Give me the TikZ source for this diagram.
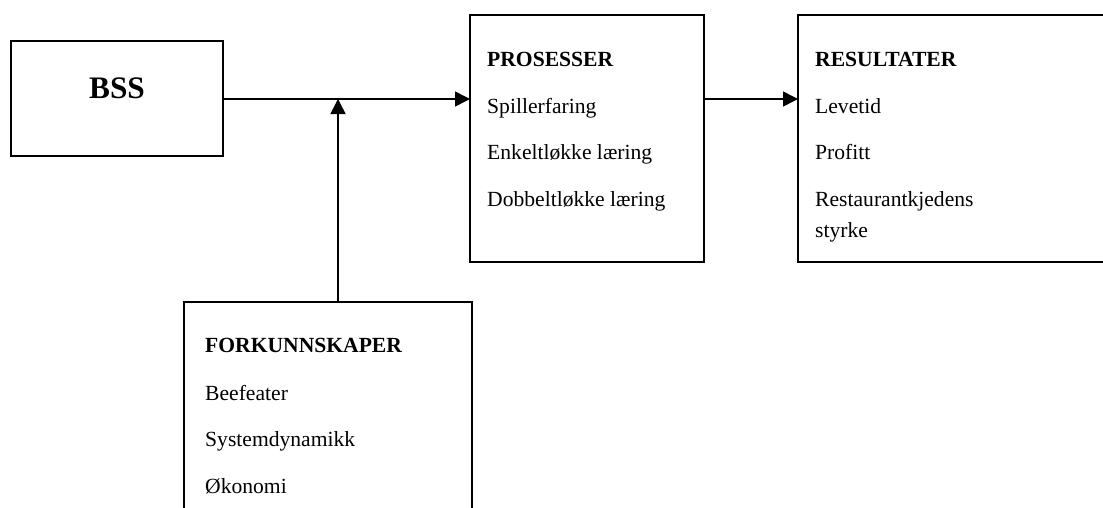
\documentclass[tikz,border=0pt]{standalone}
\usepackage{fontspec}
\setmainfont{Liberation Serif}
\usetikzlibrary{arrows.meta}
\tikzset{
  box/.style={draw=black, line width=1.6pt, fill=white, inner sep=0pt, outer sep=0pt},
  item/.style={anchor=base west, inner sep=0pt, font=\fontsize{21.6}{26}\selectfont},
  head/.style={item, font=\fontsize{21.6}{26}\selectfont\bfseries},
  link/.style={line width=1.6pt, -{Triangle[length=15pt,width=15pt]}}
}
\begin{document}
\begin{tikzpicture}[x=1pt,y=-1pt]
\useasboundingbox (0,0) rectangle (1103,507);
\clip (0,0) rectangle (1103,507);

% boxes
\node[box, minimum width=212pt, minimum height=115pt] (bss) at (117,98.5) {};
\node[box, minimum width=234pt, minimum height=247pt] (pro) at (587,138.5) {};
\node[box, minimum width=330pt, minimum height=247pt] (res) at (963,138.5) {};
\node[box, minimum width=288pt, minimum height=260pt] (fork) at (328,432) {};

% labels
\node[anchor=base, inner sep=0pt, font=\fontsize{31.3}{36}\selectfont\bfseries] (bsst) at (117,98) {BSS};

\node[head] (prot) at (487,66.7) {PROSESSER};
\node[item] (p1) at (487,113) {Spillerfaring};
\node[item] (p2) at (487,159.7) {Enkeltløkke læring};
\node[item] (p3) at (487,206.7) {Dobbeltløkke læring};

\node[head] (rest) at (815,66.7) {RESULTATER};
\node[item] (r1) at (815,113) {Levetid};
\node[item] (r2) at (815,159.7) {Profitt};
\node[item] (r3) at (815,206.7) {Restaurantkjedens};
\node[item] (r4) at (815,237) {styrke};

\node[head] (forkt) at (205,352.7) {FORKUNNSKAPER};
\node[item] (f1) at (205,400) {Beefeater};
\node[item] (f2) at (205,446.7) {Systemdynamikk};
\node[item] (f3) at (205,493) {Økonomi};

% connectors
\coordinate (join) at (338,99);
\draw[link] (bss.east |- join) -- (pro.west |- join);
\draw[link] (fork.north -| join) -- (join);
\draw[link] (pro.east |- join) -- (res.west |- join);
\end{tikzpicture}
\end{document}
